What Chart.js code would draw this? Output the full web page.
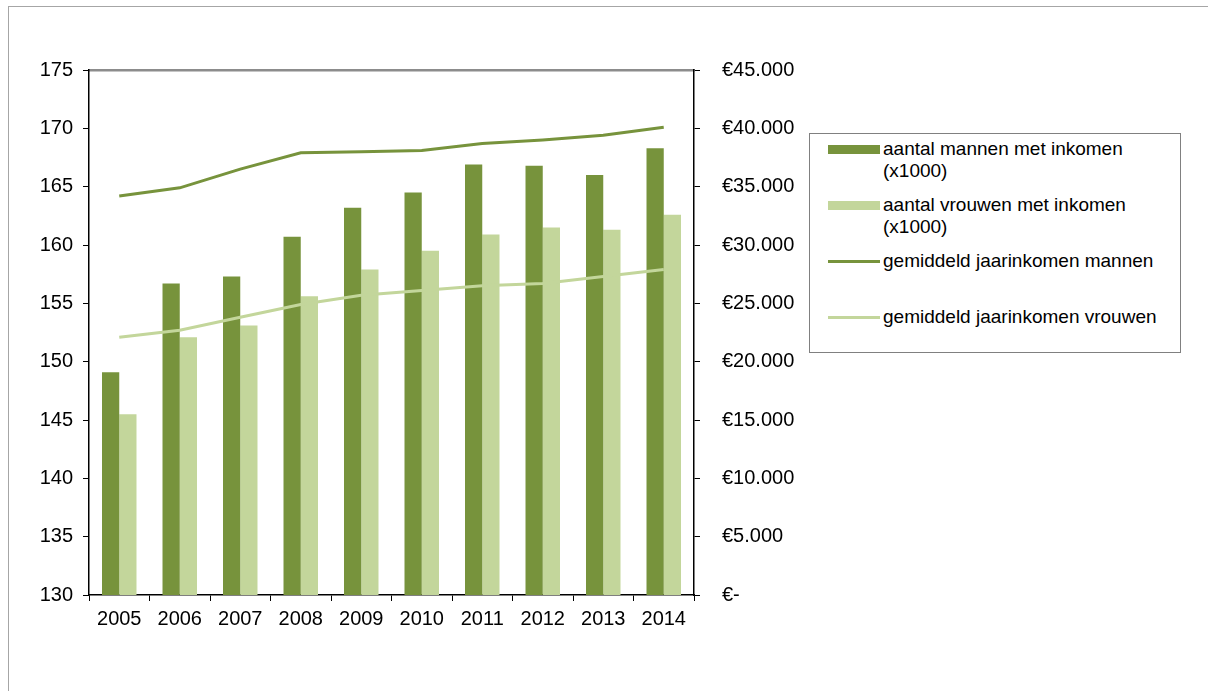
<!DOCTYPE html>
<html lang="nl">
<head>
  <meta charset="UTF-8">
  <title>Personen met inkomen en gemiddeld jaarinkomen naar geslacht</title>
  <script src="https://cdn.jsdelivr.net/npm/chart.js"></script>
  <style>
    body { margin: 0; background: #fff; font-family: "Liberation Sans", Arial, sans-serif; }
    .frame { position: absolute; left: 8px; top: 6px; right: 0; bottom: 0; border-top: 1px solid #a6a6a6; border-left: 1px solid #a6a6a6; }
    canvas { position: absolute; left: 0; top: 0; }
    #legend { position: absolute; left: 809px; top: 133px; width: 370px; height: 218px; border: 1px solid #808080; background: #fff; }
    .item { position: relative; height: 56px; }
    .item:first-child { margin-top: 4px; }
    .swatch { position: absolute; left: 18px; width: 52px; }
    .label { position: absolute; left: 73px; width: 296px; font-size: 19px; line-height: 22px; color: #000; }
  </style>
</head>
<body>

<div class="frame"></div>
<canvas id="chart" width="1208" height="691"></canvas>
<div id="legend"></div>

<script>
// jaren
const years = ['2005', '2006', '2007', '2008', '2009', '2010', '2011', '2012', '2013', '2014'];

// aantal personen met inkomen (x1000), linker as
const mannenAantal = [149.1, 156.7, 157.3, 160.7, 163.2, 164.5, 166.9, 166.8, 166.0, 168.3];
const vrouwenAantal = [145.5, 152.1, 153.1, 155.6, 157.9, 159.5, 160.9, 161.5, 161.3, 162.6];

// gemiddeld jaarinkomen (euro), rechter as
const mannenInkomen = [34200, 34900, 36500, 37900, 38000, 38100, 38700, 39000, 39400, 40100];
const vrouwenInkomen = [22100, 22700, 23800, 24900, 25700, 26100, 26500, 26700, 27300, 27900];

const labels = [
  'aantal mannen met inkomen (x1000)',
  'aantal vrouwen met inkomen (x1000)',
  'gemiddeld jaarinkomen mannen',
  'gemiddeld jaarinkomen vrouwen'
];

const donker = '#77933c';
const licht = '#c3d69b';
const font = { family: '"Liberation Sans", Arial, sans-serif', size: 20 };

const chart = new Chart(document.getElementById('chart'), {
  type: 'bar',
  data: {
    labels: years,
    datasets: [
      { label: labels[0], data: mannenAantal, backgroundColor: donker, yAxisID: 'y', order: 1,
        categoryPercentage: 0.57, barPercentage: 1.0 },
      { label: labels[1], data: vrouwenAantal, backgroundColor: licht, yAxisID: 'y', order: 1,
        categoryPercentage: 0.57, barPercentage: 1.0 },
      { type: 'line', label: labels[2], data: mannenInkomen, borderColor: donker, borderWidth: 3,
        pointRadius: 0, tension: 0, yAxisID: 'y1', order: 0 },
      { type: 'line', label: labels[3], data: vrouwenInkomen, borderColor: licht, borderWidth: 3,
        pointRadius: 0, tension: 0, yAxisID: 'y1', order: 0 }
    ]
  },
  options: {
    responsive: false,
    animation: false,
    layout: { padding: { top: 70, left: 0, right: 394, bottom: 36 } },
    plugins: { legend: { display: false }, tooltip: { enabled: false } },
    scales: {
      x: {
        position: 'bottom',
        afterFit: s => { s.height = 60; },
        grid: { drawOnChartArea: false, tickLength: 6, color: '#000', offset: true },
        border: { color: '#000', width: 1.5 },
        ticks: { color: '#000', font: font, padding: 6, maxRotation: 0 }
      },
      xTop: {
        type: 'category',
        position: 'top',
        afterFit: s => { s.height = 0; },
        grid: { display: false },
        ticks: { display: false },
        border: { color: '#8c8c8c', width: 2.5 }
      },
      y: {
        position: 'left',
        min: 130, max: 175,
        afterFit: s => { s.width = 89; },
        grid: { drawOnChartArea: false, tickLength: 6, color: '#000' },
        border: { color: '#000', width: 1.5 },
        ticks: { stepSize: 5, color: '#000', font: font, padding: 10 }
      },
      y1: {
        position: 'right',
        min: 0, max: 45000,
        afterFit: s => { s.width = 120; },
        grid: { drawOnChartArea: false, tickLength: 6, color: '#000' },
        border: { color: '#000', width: 1.5 },
        ticks: {
          stepSize: 5000, color: '#000', font: font, padding: 22,
          callback: v => v === 0 ? '€-' : '€' + (v / 1000) + '.000'
        }
      }
    }
  }
});

// legenda zoals in het origineel
const legend = document.getElementById('legend');
chart.data.datasets.forEach(ds => {
  const item = document.createElement('div');
  item.className = 'item';
  const sw = document.createElement('div');
  sw.className = 'swatch';
  if (ds.type === 'line') {
    sw.style.top = '10px';
    sw.style.height = '3px';
    sw.style.background = ds.borderColor;
  } else {
    sw.style.top = '7px';
    sw.style.height = '9px';
    sw.style.background = ds.backgroundColor;
  }
  const txt = document.createElement('div');
  txt.className = 'label';
  txt.textContent = ds.label;
  item.appendChild(sw);
  item.appendChild(txt);
  legend.appendChild(item);
});
</script>

</body>
</html>
